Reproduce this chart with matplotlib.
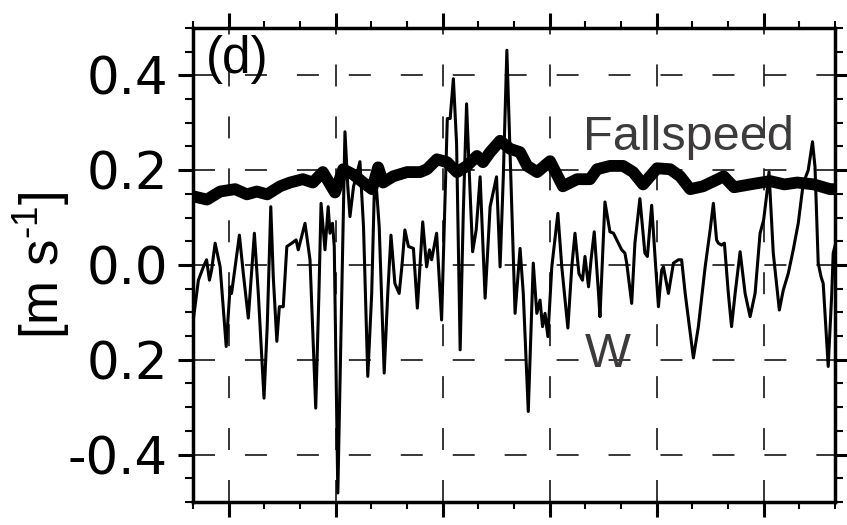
import numpy as np
import matplotlib
matplotlib.use('Agg')
import matplotlib.pyplot as plt
from matplotlib.ticker import MultipleLocator, FixedLocator, FixedFormatter

plt.rcParams['font.family'] = ['Liberation Sans', 'DejaVu Sans']
plt.rcParams['mathtext.fontset'] = 'custom'
plt.rcParams['mathtext.rm'] = 'Liberation Sans'
plt.rcParams['mathtext.it'] = 'Liberation Sans'

# time axis in minutes (unlabelled), vertical velocity in m/s
t_w = [0.0, 1.5, 2.9, 3.8, 4.6, 5.2, 6.2, 7.6, 9.3, 10.4,
       10.8, 13.0, 14.1, 15.5, 17.2, 18.3, 19.9, 20.8, 21.8, 22.5,
       23.5, 24.2, 25.3, 26.3, 27.7, 28.9, 29.5, 31.4, 32.8, 34.4,
       35.3, 35.9, 37.0, 37.9, 38.4, 39.1, 39.6, 40.6, 41.7, 42.6,
       43.4, 44.0, 45.0, 46.8, 47.8, 49.0, 50.1, 51.0, 52.2, 53.6,
       54.6, 55.5, 56.6, 57.8, 58.6, 59.4, 60.4, 61.8, 62.9, 64.4,
       65.5, 66.3, 66.9, 68.3, 69.7, 70.7, 71.3, 72.1, 73.0, 73.9,
       74.9, 75.8, 76.7, 77.7, 78.4, 79.4, 80.5, 81.9, 83.3, 85.1,
       86.1, 87.0, 88.0, 90.3, 91.7, 92.6, 94.0, 95.4, 96.4, 97.3,
       98.0, 98.7, 99.5, 100.6, 102.3, 103.4, 105.1, 106.2, 107.1, 108.2,
       109.2, 109.9, 110.9, 111.6, 112.5, 113.7, 114.1, 115.5, 116.9, 117.9,
       119.0, 120.2, 121.1, 121.6, 123.0, 123.9, 125.3, 126.7, 127.4, 128.6,
       129.6, 130.5, 131.4, 131.9, 133.3, 134.7, 136.1, 137.0, 138.0, 140.3,
       141.7, 143.6, 145.0, 145.9, 146.8, 147.3, 148.2, 149.0, 150.1, 151.0,
       152.0, 153.4, 154.8, 156.2, 157.6, 159.0, 160.0, 160.9, 161.5, 162.7,
       164.4, 165.5, 166.9, 168.3, 169.7, 171.1, 172.5, 173.7, 174.4, 175.3,
       176.1, 176.7, 178.1, 179.1, 179.5, 180.0]
w = [-0.12, -0.032, -0.004, 0.011, -0.032, -0.011, 0.046, -0.004, -0.172, -0.046,
     -0.06, 0.063, -0.018, -0.112, 0.067, -0.06, -0.281, -0.13, 0.123, -0.025,
     -0.161, -0.088, -0.088, 0.039, 0.046, 0.053, 0.032, 0.088, 0.011, -0.302,
     -0.06, 0.13, 0.032, 0.123, 0.067, 0.088, 0.039, -0.481, -0.06, 0.281,
     0.165, 0.102, 0.165, 0.218, 0.081, -0.235, -0.06, 0.207, 0.081, -0.228,
     -0.06, 0.063, -0.039, -0.06, 0.0, 0.074, 0.039, 0.035, -0.091, 0.091,
     -0.004, 0.032, 0.011, 0.067, -0.116, 0.151, 0.309, 0.309, 0.393, 0.256,
     -0.179, 0.116, 0.34, 0.151, 0.028, 0.074, 0.186, -0.07, 0.123, 0.186,
     -0.004, 0.186, 0.453, -0.102, 0.035, -0.06, -0.309, 0.004, -0.102, -0.074,
     -0.13, -0.102, -0.151, -0.004, 0.109, -0.004, -0.133, -0.004, 0.067, -0.018,
     -0.032, 0.018, -0.046, 0.011, 0.07, -0.06, -0.109, 0.133, 0.07, 0.067,
     0.05, 0.032, 0.025, 0.004, -0.081, 0.046, 0.14, 0.025, 0.018, 0.126,
     0.011, -0.088, -0.011, -0.004, -0.06, 0.004, 0.011, 0.011, -0.06, -0.196,
     -0.13, -0.004, 0.074, 0.13, 0.053, 0.046, 0.042, 0.046, -0.06, -0.13,
     -0.06, 0.028, -0.06, -0.109, -0.06, 0.067, 0.095, 0.151, 0.196, 0.025,
     -0.095, -0.053, -0.018, 0.032, 0.088, 0.172, 0.2, 0.26, 0.207, 0.004,
     -0.025, -0.039, -0.214, -0.06, 0.025, 0.04]

t_fs = [0.0, 3.9, 7.6, 11.8, 15.1, 17.9, 20.8, 24.4, 27.2, 30.8,
        33.6, 36.4, 39.8, 42.1, 44.9, 47.7, 50.2, 51.9, 53.3, 56.1,
        60.0, 63.7, 65.6, 68.4, 71.2, 74.0, 76.8, 79.6, 81.3, 83.3,
        86.1, 88.9, 91.7, 93.7, 96.5, 100.1, 103.7, 107.7, 111.3, 113.3,
        116.9, 120.6, 123.4, 126.2, 130.1, 133.8, 136.6, 139.4, 143.0, 146.9,
        148.8, 151.7, 156.2, 161.8, 165.8, 169.4, 174.1, 178.6, 180.0]
fallspeed = [0.145, 0.138, 0.155, 0.16, 0.149, 0.155, 0.149, 0.166, 0.174, 0.181,
             0.174, 0.196, 0.153, 0.202, 0.191, 0.174, 0.16, 0.206, 0.174, 0.187,
             0.196, 0.196, 0.202, 0.223, 0.217, 0.196, 0.209, 0.23, 0.217, 0.238,
             0.262, 0.245, 0.238, 0.209, 0.196, 0.219, 0.166, 0.181, 0.181, 0.202,
             0.209, 0.209, 0.196, 0.17, 0.204, 0.202, 0.187, 0.16, 0.166, 0.18,
             0.187, 0.164, 0.17, 0.177, 0.17, 0.174, 0.17, 0.16, 0.16]

yticks = [0.4, 0.2, 0.0, -0.2, -0.4]
ytick_labels = ['0.4', '0.2', '0.0', '0.2', '-0.4']

fig = plt.figure(figsize=(8.47, 5.25), dpi=100)
ax = fig.add_axes([0.2279, 0.0438, 0.7579, 0.9029])

grid_style = dict(color='black', lw=1.1, linestyle=(0, (14.4, 19.6)), zorder=1)
for xv in range(10, 180, 30):
    ax.plot([xv, xv], [-0.5, 0.5], **grid_style)
for yv in yticks:
    ax.plot([0, 180], [yv, yv], **grid_style)

ax.plot(t_w, w, color='black', lw=2.2, solid_joinstyle='round', zorder=3)
ax.plot(t_fs, fallspeed, color='black', lw=8.5, solid_capstyle='round',
        solid_joinstyle='round', zorder=4)

ax.set_xlim(0, 180)
ax.set_ylim(-0.5, 0.5)
ax.xaxis.set_major_locator(FixedLocator(list(range(10, 180, 30))))
ax.xaxis.set_minor_locator(MultipleLocator(10))
ax.yaxis.set_major_locator(FixedLocator(yticks))
ax.yaxis.set_major_formatter(FixedFormatter(ytick_labels))
ax.yaxis.set_minor_locator(MultipleLocator(0.05))
ax.tick_params(axis='both', which='both', direction='out', top=True, right=True,
               labelbottom=False)
ax.tick_params(which='major', length=11, width=2.2, labelsize=37, pad=7)
ax.tick_params(which='minor', length=5, width=1.5)
ax.tick_params(axis='y', which='minor', length=6)
for lab in ax.get_yticklabels():
    lab.set_family('DejaVu Sans')
for s in ax.spines.values():
    s.set_linewidth(2.5)

ax.set_ylabel('[m s$^{\u20101}$]', fontsize=38, labelpad=-3)

ax.text(0.02, 0.985, '(d)', transform=ax.transAxes, fontsize=37,
        ha='left', va='top', zorder=5)
ax.text(0.607, 0.743, 'Fallspeed', transform=ax.transAxes, fontsize=35,
        color='#3d3a3c', ha='left', va='baseline', zorder=5)
ax.text(0.611, 0.285, 'W', transform=ax.transAxes, fontsize=35,
        color='#3d3a3c', ha='left', va='baseline', zorder=5)

fig.savefig('out.png', dpi=100)
